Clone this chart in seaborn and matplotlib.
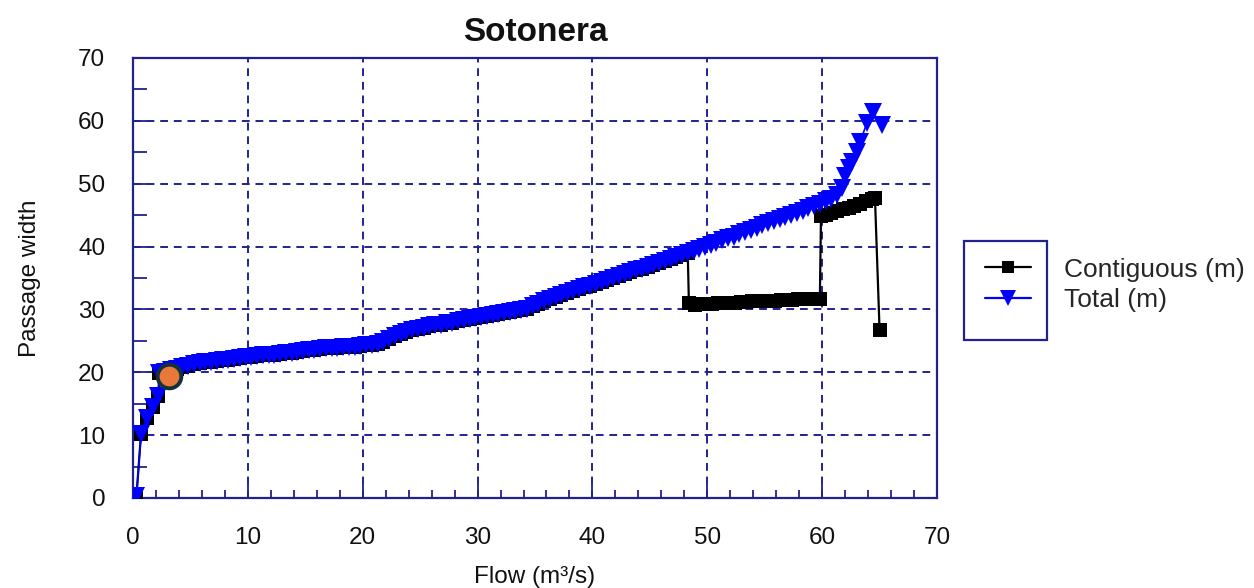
import matplotlib
matplotlib.use("Agg")
import matplotlib.pyplot as plt
from matplotlib.lines import Line2D
from matplotlib.patches import Rectangle
from matplotlib.ticker import MultipleLocator
import seaborn as sns
import pandas as pd

# Flow (m3/s) and total passage width (m)
total_flow = [0.3, 0.7, 1.2, 1.7, 2.2, 2.3, 2.8, 3.3, 3.8, 4.3, 4.8, 5.3, 5.8, 6.3, 6.8,
              7.3, 7.8, 8.3, 8.8, 9.3, 9.8, 10.3, 10.8, 11.3, 11.8, 12.3, 12.8, 13.3, 13.8,
              14.3, 14.8, 15.3, 15.8, 16.3, 16.8, 17.3, 17.8, 18.3, 18.8, 19.3, 19.8, 20.3,
              20.8, 21.3, 21.8, 22.3, 22.8, 23.3, 23.8, 24.3, 24.8, 25.3, 25.8, 26.3, 26.8,
              27.3, 27.8, 28.3, 28.8, 29.3, 29.8, 30.3, 30.8, 31.3, 31.8, 32.3, 32.8, 33.3,
              33.8, 34.3, 34.8, 35.3, 35.8, 36.3, 36.8, 37.3, 37.8, 38.3, 38.8, 39.3, 39.8,
              40.3, 40.8, 41.3, 41.8, 42.3, 42.8, 43.3, 43.8, 44.3, 44.8, 45.3, 45.8, 46.3,
              46.8, 47.3, 47.8, 48.3, 48.8, 49.3, 49.8, 50.3, 50.8, 51.3, 51.8, 52.3, 52.8,
              53.3, 53.8, 54.3, 54.8, 55.3, 55.8, 56.3, 56.8, 57.3, 57.8, 58.3, 58.8, 59.3,
              59.8, 60.3, 60.8, 61.3, 61.7, 62.0, 62.3, 62.6, 63.0, 63.3, 63.9, 64.4, 65.2]
total_width = [0.3, 10.2, 12.8, 14.4, 16.2, 19.9, 20.1, 20.4, 20.6, 20.8, 21.0, 21.3, 21.4,
               21.6, 21.7, 21.8, 21.9, 22.0, 22.1, 22.2, 22.4, 22.5, 22.6, 22.7, 22.8, 22.8,
               22.9, 23.0, 23.1, 23.3, 23.4, 23.5, 23.6, 23.7, 23.8, 23.9, 23.9, 24.0, 24.1,
               24.1, 24.2, 24.3, 24.4, 24.5, 24.8, 25.3, 25.8, 26.1, 26.4, 26.7, 26.9, 27.1,
               27.3, 27.5, 27.6, 27.8, 27.9, 28.1, 28.3, 28.5, 28.7, 28.8, 29.0, 29.1, 29.3,
               29.4, 29.6, 29.7, 29.9, 30.1, 30.5, 30.9, 31.3, 31.6, 31.9, 32.3, 32.6, 32.9,
               33.2, 33.5, 33.8, 34.1, 34.4, 34.7, 35.0, 35.3, 35.6, 35.9, 36.2, 36.5, 36.8,
               37.1, 37.4, 37.7, 38.0, 38.3, 38.6, 38.9, 39.3, 39.6, 39.9, 40.2, 40.6, 41.0,
               41.3, 41.6, 42.0, 42.3, 42.7, 43.0, 43.4, 43.7, 44.0, 44.4, 44.7, 45.1, 45.4,
               45.7, 46.1, 46.5, 46.8, 47.2, 47.6, 48.2, 49.3, 51.2, 52.5, 53.5, 55.0, 56.6,
               59.7, 61.4, 59.3]

# Contiguous width follows the total up to 48.3 m3/s, then splits off
split = total_flow.index(48.3) + 1
contig_tail_flow = [48.4, 48.9, 49.4, 49.9, 50.4, 50.9, 51.4, 51.9, 52.4, 52.9, 53.4, 53.9,
                    54.4, 54.9, 55.4, 55.9, 56.4, 56.9, 57.4, 57.9, 58.4, 58.9, 59.4, 59.8,
                    59.9, 60.3, 60.8, 61.3, 61.8, 62.3, 62.8, 63.3, 63.8, 64.3, 64.6, 65.0]
contig_tail_width = [31.0, 30.7, 30.8, 30.9, 30.9, 31.0, 31.0, 31.1, 31.1, 31.2, 31.2, 31.3,
                     31.3, 31.3, 31.4, 31.4, 31.5, 31.5, 31.5, 31.6, 31.6, 31.6, 31.7, 31.7,
                     44.8, 45.0, 45.3, 45.6, 45.9, 46.2, 46.5, 46.8, 47.2, 47.5, 47.7, 26.7]
contig_flow = total_flow[:split] + contig_tail_flow
contig_width = total_width[:split] + contig_tail_width

# Highlighted operating point
point_flow = [3.1]
point_width = [19.4]

title = "Sotonera"
xlabel = "Flow (m³/s)"
ylabel = "Passage width"
series_names = ["Contiguous (m)", "Total (m)"]

sns.set_theme(style="white")
plt.rcParams["font.family"] = ["Liberation Sans", "DejaVu Sans"]

navy = "#22228f"

fig = plt.figure(figsize=(12.54, 5.88), dpi=100)
ax = fig.add_axes([133 / 1254, 1 - 498 / 588, (937 - 133) / 1254, (498 - 58) / 588])

df_c = pd.DataFrame({"flow": contig_flow, "width": contig_width})
df_t = pd.DataFrame({"flow": total_flow, "width": total_width})

sns.lineplot(data=df_c, x="flow", y="width", sort=False, ax=ax, color="black",
             linewidth=1.6, marker="s", markersize=9.5, markeredgewidth=0, zorder=3)
sns.lineplot(data=df_t, x="flow", y="width", sort=False, ax=ax, color="#0000ff",
             linewidth=1.2, marker="v", markersize=13, markeredgewidth=0, zorder=4)
sns.scatterplot(x=point_flow, y=point_width, ax=ax, s=290, color="#e8793a",
                edgecolor="#16303a", linewidth=2.8, zorder=6)

ax.set_xlim(0, 70)
ax.set_ylim(0, 70)
ax.xaxis.set_major_locator(MultipleLocator(10))
ax.xaxis.set_minor_locator(MultipleLocator(2))
ax.yaxis.set_major_locator(MultipleLocator(10))
ax.yaxis.set_minor_locator(MultipleLocator(5))

ax.grid(True, which="major", color=navy, linestyle=(0, (4, 3)), linewidth=1.4)
ax.tick_params(axis="both", which="both", direction="in", colors=navy,
               labelcolor="#111111", labelsize=17.5, bottom=True, left=True)
ax.tick_params(axis="x", which="both", pad=21)
ax.tick_params(axis="y", which="both", pad=20)
ax.tick_params(axis="both", which="major", length=10, width=1.3)
ax.tick_params(axis="x", which="minor", length=6, width=1.3)
ax.tick_params(axis="y", which="minor", length=10, width=1.3)
for s in ax.spines.values():
    s.set_color(navy)
    s.set_linewidth(1.6)

ax.set_xlabel(xlabel, fontsize=17.5, color="#111111", labelpad=12)
ax.set_ylabel(ylabel, fontsize=17.5, color="#111111", labelpad=27)
ax.set_title(title, fontsize=24, fontweight="bold", color="#111111", pad=12)

handles = [
    Line2D([], [], color="black", marker="s", markersize=9, linewidth=1.6, markeredgewidth=0),
    Line2D([], [], color="#0000ff", marker="v", markersize=11, linewidth=1.6, markeredgewidth=0),
]
fig.legend(handles, series_names, loc="center left",
           bbox_to_anchor=(985 / 1254, 1 - 285 / 588), frameon=False,
           fontsize=19, handlelength=1.75, handletextpad=1.25, labelspacing=0.25,
           borderpad=0, borderaxespad=0)
fig.patches.append(Rectangle((964 / 1254, 1 - 340 / 588), 83 / 1254, 99 / 588,
                             transform=fig.transFigure, fill=False,
                             edgecolor=navy, linewidth=1.6))

fig.savefig("out.png", dpi=100)
